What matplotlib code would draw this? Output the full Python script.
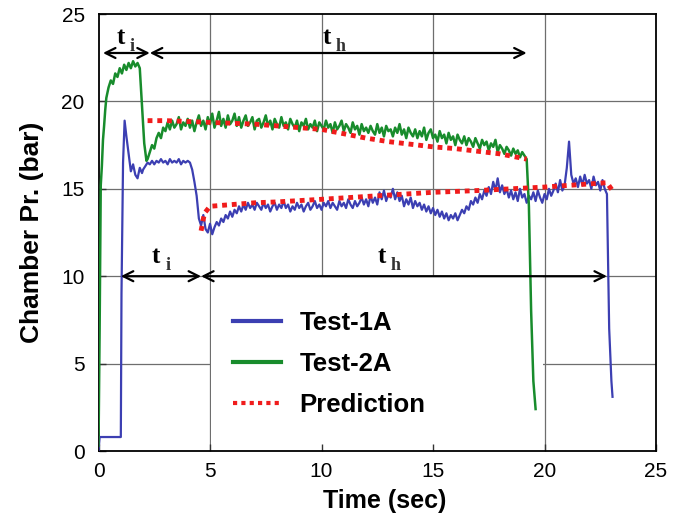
import numpy as np
import matplotlib.pyplot as plt
from matplotlib.patches import Rectangle

plt.rcParams['font.family'] = ['Liberation Sans', 'DejaVu Sans']

# ---- Test-1A (blue) ----
t1_head = [0, 0.05, 1.0, 1.03, 1.1, 1.17, 1.25, 1.35, 1.45, 1.55, 1.65, 1.75, 1.85, 1.95, 2.0]
p1_head = [0, 0.8, 0.8, 9.0, 16.5, 18.9, 18.0, 17.0, 16.0, 16.4, 15.8, 15.6, 16.2, 15.9, 16.1]
# plateau sampled every 0.1 s from 2.1 s to 4.3 s
p1_plateau = [16.3, 16.5, 16.4, 16.6, 16.4, 16.6, 16.5, 16.7, 16.5, 16.6, 16.4,
              16.7, 16.5, 16.6, 16.5, 16.7, 16.4, 16.6, 16.5, 16.6, 16.5, 16.1, 15.4]
# hold phase sampled every 0.1 s from 4.4 s to 22.8 s
p1_hold = [14.6, 13.3, 12.9, 13.5, 12.7, 12.5, 13.0, 12.4, 12.8, 13.1,
           12.9, 13.3, 13.1, 13.5, 13.3, 13.7, 13.4, 13.8, 13.6, 14.0,
           13.7, 14.1, 13.8, 14.2, 13.9, 14.1, 13.8, 14.2, 14.0, 13.8,
           14.2, 13.9, 14.1, 13.7, 14.0, 14.2, 13.8, 14.1, 13.9, 14.3,
           13.9, 14.1, 13.7, 14.0, 13.8, 14.2, 13.9, 14.1, 13.7, 14.0,
           14.2, 13.8, 14.0, 14.3, 13.9, 14.1, 13.8, 14.2, 14.0, 14.3,
           13.9, 14.2, 14.0, 13.8, 14.3, 14.0, 14.2, 13.9, 14.4, 14.1,
           13.9, 14.3, 14.0, 14.2, 14.5, 14.1, 14.4, 14.0, 14.6, 14.2,
           14.5, 14.1, 14.8, 14.4, 14.9, 14.3, 14.7, 14.5, 15.0, 14.4,
           14.8, 14.3, 14.6, 14.0, 14.4, 14.1, 14.5, 13.9, 14.3, 14.0,
           14.2, 13.8, 14.1, 13.7, 14.0, 13.6, 13.9, 13.5, 13.8, 13.4,
           13.7, 13.3, 13.6, 13.2, 13.5, 13.3, 13.6, 13.2, 13.5, 13.8,
           13.6, 14.0, 13.8, 14.3, 14.1, 14.5, 14.2, 14.7, 14.4, 14.9,
           14.6, 15.1, 14.7, 15.4, 14.9, 15.6, 14.8, 15.2, 14.7, 15.0,
           14.5, 14.9, 14.4, 14.8, 14.3, 15.0, 14.5, 14.7, 14.2, 14.6,
           14.4, 14.8, 14.3, 14.9, 14.5, 14.2, 14.7, 14.4, 15.0, 14.6,
           14.9, 15.3, 14.8, 15.5, 14.9, 15.2, 16.2, 17.7, 15.8, 15.3,
           15.6, 15.1, 15.7, 15.2, 15.8, 15.3, 15.5, 15.0, 15.7, 15.2,
           15.4, 14.9, 15.5, 15.0, 14.7]
t1_tail = [22.85, 22.9, 23.0, 23.05]
p1_tail = [11.0, 7.0, 4.0, 3.1]

# ---- Test-2A (green) ----
t2_head = [0, 0.05, 0.1, 0.15, 0.2, 0.25, 0.3, 0.35, 0.45, 0.55, 0.65, 0.75, 0.85,
           0.95, 1.05, 1.15, 1.25, 1.35, 1.45, 1.55, 1.65, 1.75, 1.85, 1.95, 2.05, 2.15]
p2_head = [0.3, 7.0, 15.2, 16.3, 17.8, 18.6, 19.5, 20.2, 20.8, 21.2, 21.0, 21.6, 21.4,
           21.9, 21.6, 22.1, 21.8, 22.2, 21.9, 22.3, 22.0, 22.2, 21.9, 19.8, 17.6, 16.6]
# hold phase sampled every 0.1 s from 2.2 s to 19.2 s
p2_hold = [16.7, 17.1, 17.5, 17.3, 17.9, 18.2, 17.9, 18.5, 18.3, 18.8,
           18.4, 18.9, 18.5, 18.7, 19.1, 18.4, 18.8, 18.6, 19.0, 18.5,
           18.9, 18.3, 18.8, 19.2, 18.6, 18.9, 18.4, 19.1, 18.7, 19.3,
           18.5, 18.9, 19.4, 18.6, 19.0, 18.5, 19.2, 18.7, 18.9, 19.3,
           18.6, 19.1, 18.5, 18.9, 19.2, 18.6, 18.8, 19.1, 18.4, 18.9,
           19.0, 18.5, 18.8, 19.2, 18.6, 18.9, 18.4, 19.0, 18.7, 18.5,
           19.1, 18.6, 18.8, 18.4, 19.0, 18.7, 18.5, 18.9, 18.3, 18.8,
           18.6, 19.0, 18.4, 18.7, 18.5, 18.9, 18.3, 18.8, 18.6, 18.4,
           18.9, 18.5, 18.7, 18.2, 18.8, 18.4, 18.6, 18.9, 18.3, 18.7,
           18.5, 18.2, 18.8, 18.4, 18.6, 18.1, 18.7, 18.3, 18.5, 18.2,
           18.6, 18.3, 18.1, 18.7, 18.2, 18.5, 18.0, 18.6, 18.3, 18.4,
           18.0, 18.5, 18.2, 18.7, 18.1, 18.4, 17.9, 18.5, 18.2, 18.0,
           18.4, 17.9, 18.3, 18.0, 18.5, 17.8, 18.2, 18.4, 17.9, 18.1,
           17.7, 18.3, 17.9, 18.1, 17.6, 18.2, 17.8, 18.0, 17.5, 18.1,
           17.8, 17.6, 18.0, 17.5, 17.9, 17.7, 17.4, 17.9, 17.6, 17.3,
           17.8, 17.5, 17.7, 17.2, 17.6, 17.4, 17.8, 17.1, 17.5, 17.3,
           17.0, 17.4, 17.2, 16.9, 17.3, 17.0, 17.2, 16.8, 17.1, 16.9,
           16.7]
t2_tail = [19.3, 19.4, 19.5, 19.6]
p2_tail = [14.0, 8.0, 4.0, 2.4]

# ---- Prediction ----
pred2_t = [2.2, 3, 4, 5, 6, 7, 8, 9, 10, 11, 12, 13, 14, 15, 16, 17, 18, 19.2]
pred2_p = [18.9, 18.9, 18.85, 18.8, 18.75, 18.7, 18.6, 18.5, 18.4, 18.15, 17.9,
           17.7, 17.55, 17.4, 17.3, 17.15, 17.0, 16.7]
pred1_t = [4.6, 4.75, 5.0, 6, 7, 8, 10, 12.5, 15, 17, 20, 22.8, 23.1]
pred1_p = [12.6, 13.6, 14.0, 14.1, 14.2, 14.25, 14.4, 14.6, 14.8, 14.9, 15.1, 15.35, 14.8]

ticks = [0, 5, 10, 15, 20, 25]

t1 = np.concatenate([t1_head, 2.1 + 0.1 * np.arange(len(p1_plateau)),
                     4.4 + 0.1 * np.arange(len(p1_hold)), t1_tail])
p1 = np.concatenate([p1_head, p1_plateau, p1_hold, p1_tail])
t2 = np.concatenate([t2_head, 2.2 + 0.1 * np.arange(len(p2_hold)), t2_tail])
p2 = np.concatenate([p2_head, p2_hold, p2_tail])

blue = '#3c3fb2'
green = '#188c2c'
red = '#f01c1c'
gridc = '#6e6e6e'

fig = plt.figure(figsize=(6.88, 5.19), dpi=100)
ax = fig.add_axes([0.1432, 0.1310, 0.8103, 0.8420])

ax.set_xlim(0, 25)
ax.set_ylim(0, 25)
ax.set_xticks(ticks)
ax.set_yticks(ticks)

# grid drawn by hand so the tick marks stay on top of the legend background
for v in ticks[1:-1]:
    ax.axvline(v, color=gridc, lw=0.9, zorder=0.5)
    ax.axhline(v, color=gridc, lw=0.9, zorder=0.5)

# white legend background hiding the grid
ax.add_patch(Rectangle((5.05, 0.05), 14.9, 9.9, facecolor='white',
                       edgecolor='none', zorder=1))

ax.plot(t1, p1, color=blue, lw=1.6, label='Test-1A', zorder=3)
ax.plot(t2, p2, color=green, lw=1.8, label='Test-2A', zorder=3)
ax.plot(pred2_t, pred2_p, color=red, lw=3.5, dashes=(1, 1),
        dash_capstyle='butt', label='Prediction', zorder=4)
ax.plot(pred1_t, pred1_p, color=red, lw=3.5, dashes=(1, 1),
        dash_capstyle='butt', zorder=4)

# time interval arrows
arr = dict(arrowstyle='<->', lw=1.6, color='black', mutation_scale=18,
           shrinkA=0, shrinkB=0)
ax.annotate('', xy=(0.2, 22.77), xytext=(2.3, 22.77), arrowprops=arr, zorder=5)
ax.annotate('', xy=(2.3, 22.77), xytext=(19.2, 22.77), arrowprops=arr, zorder=5)
ax.annotate('', xy=(1.0, 10.0), xytext=(4.6, 10.0), arrowprops=arr, zorder=5)
ax.annotate('', xy=(4.6, 10.0), xytext=(22.8, 10.0), arrowprops=arr, zorder=5)

serif = ['Liberation Serif', 'DejaVu Serif']
for x, y, sub in [(0.8, 23.3, 'i'), (10.05, 23.3, 'h'), (2.4, 10.75, 'i'), (12.5, 10.75, 'h')]:
    ax.text(x, y, 't', family=serif, fontweight='bold', fontsize=18,
            va='baseline', ha='left', zorder=6)
    ax.text(x + 0.6, y - 0.4, sub, family=serif, fontweight='bold', fontsize=13,
            va='baseline', ha='left', color='#333333', zorder=6)

ax.tick_params(direction='in', length=5, labelsize=15, width=1, color='#333333')
ax.tick_params(axis='y', pad=10)
ax.tick_params(axis='x', pad=8)
for s in ax.spines.values():
    s.set_linewidth(1.3)

ax.set_xlabel('Time (sec)', fontsize=18, fontweight='bold')
ax.set_ylabel('Chamber Pr. (bar)', fontsize=19, fontweight='bold')
ax.xaxis.set_label_coords(0.514, -0.088)
ax.yaxis.set_label_coords(-0.097, 0.5)

leg = ax.legend(loc='upper left', bbox_to_anchor=(0.2406, 0.32), frameon=False,
                prop={'weight': 'bold', 'size': 18.5}, handlelength=1.9,
                handletextpad=0.7, labelspacing=0.65, borderpad=0, borderaxespad=0)
for line in leg.get_lines():
    line.set_linewidth(3)
leg.set_zorder(6)

fig.savefig('out.png', dpi=100)
